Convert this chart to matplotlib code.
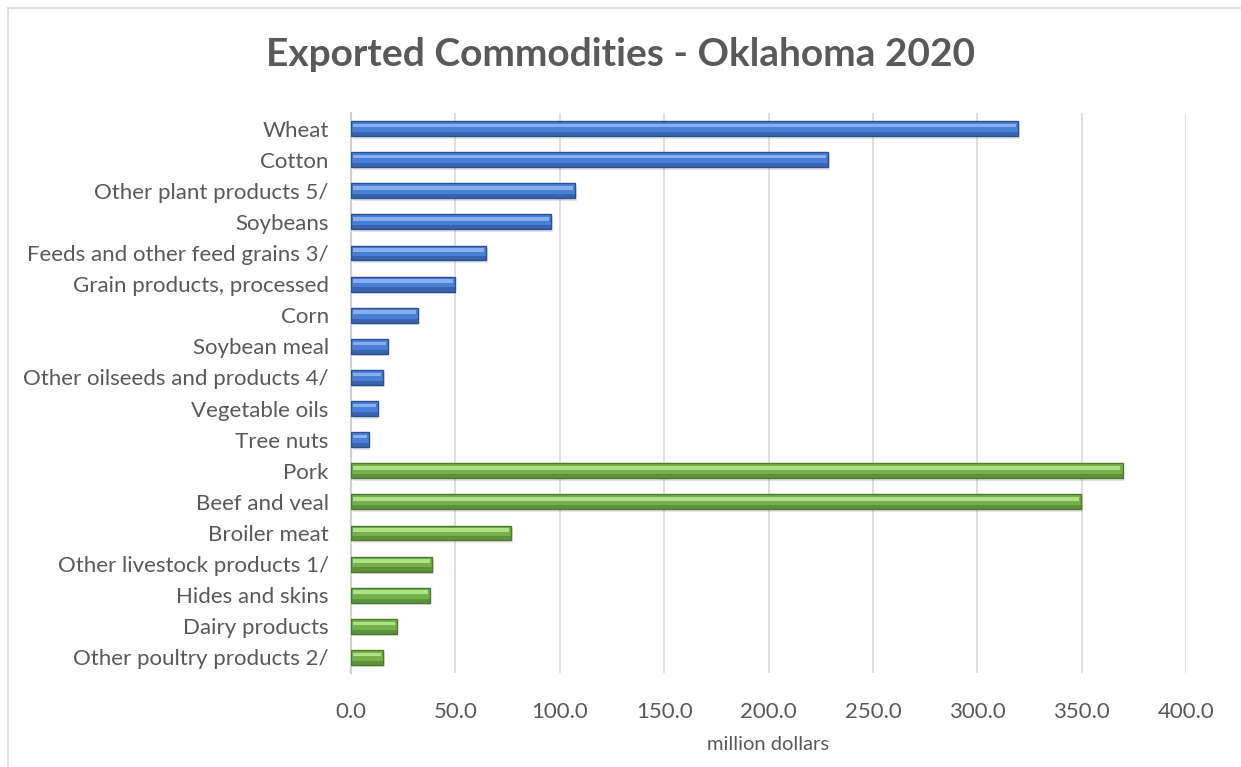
import numpy as np
import matplotlib
matplotlib.use("Agg")
import matplotlib.pyplot as plt
from matplotlib.lines import Line2D

plant_names = ["Wheat", "Cotton", "Other plant products 5/", "Soybeans",
               "Feeds and other feed grains 3/", "Grain products, processed",
               "Corn", "Soybean meal", "Other oilseeds and products 4/",
               "Vegetable oils", "Tree nuts"]
plant_values = [319.7, 228.7, 107.5, 95.8, 64.7, 49.7, 32.0, 17.6, 15.5, 12.8, 8.5]

animal_names = ["Pork", "Beef and veal", "Broiler meat", "Other livestock products 1/",
                "Hides and skins", "Dairy products", "Other poultry products 2/"]
animal_values = [369.6, 349.8, 76.7, 39.0, 37.7, 21.9, 15.5]

x_ticks = [0, 50, 100, 150, 200, 250, 300, 350, 400]

plt.rcParams['font.family'] = ['Lato', 'DejaVu Sans']
grey = "#595959"

W, H = 1241, 767
fig = plt.figure(figsize=(W / 100, H / 100), dpi=100)
ax = fig.add_axes([351 / W, 1 - 673 / H, (1186 - 351) / W, (673 - 113) / H])

names = plant_names + animal_names
values = plant_values + animal_values
n = len(names)
ypos = np.arange(n)

styles = [("#4a7fd6", "#8fb6f5", "#2b4f8f")] * len(plant_values) + \
         [("#76b04c", "#b5e88e", "#4c7a2c")] * len(animal_values)
mid = [s[0] for s in styles]
light = [s[1] for s in styles]
dark = [s[2] for s in styles]

bh = 0.48
# soft shadow
ax.barh(ypos + 0.08, values, height=bh, left=0.8, color="#000000", alpha=0.10,
        zorder=2, linewidth=0)
# main bar
ax.barh(ypos, values, height=bh, color=mid, edgecolor=dark, linewidth=1.0, zorder=3)
# highlight strip on the upper part
ax.barh(ypos - bh * 0.2, np.array(values) - 2.0, height=bh * 0.24, left=1.0,
        color=light, linewidth=0, zorder=4, alpha=0.9)
# dark lower strip
ax.barh(ypos + bh * 0.36, values, height=bh * 0.28, color=dark, linewidth=0,
        zorder=4, alpha=0.55)

ax.set_ylim(n - 0.5, -0.5)
ax.set_xlim(0, 400)
ax.set_yticks(ypos)
ax.set_yticklabels(names, fontsize=16, color=grey)
ax.set_xticks(x_ticks)
ax.set_xticklabels([f"{v:.1f}" for v in x_ticks], fontsize=16, color=grey)
ax.tick_params(axis="y", length=0, pad=16)
ax.tick_params(axis="x", length=0, pad=21)

ax.grid(axis="x", color="#d9d9d9", linewidth=1.2, zorder=0)
ax.set_axisbelow(True)
for s in ["top", "right", "bottom"]:
    ax.spines[s].set_visible(False)
ax.spines["left"].set_color("#d0d0d0")
ax.spines["left"].set_linewidth(1.5)

ax.set_xlabel("million dollars", fontsize=14.5, color=grey, labelpad=10)

fig.text(0.5, 1 - 54 / H, "Exported Commodities - Oklahoma 2020", ha="center",
         va="center", fontsize=28, fontweight="bold", color=grey)

# chart frame (cropped on right and bottom)
fig.add_artist(Line2D([8 / W, 1], [1 - 8 / H, 1 - 8 / H], color="#d9d9d9", lw=1.2))
fig.add_artist(Line2D([8 / W, 8 / W], [0, 1 - 8 / H], color="#d9d9d9", lw=1.2))

fig.savefig("out.png", dpi=100, facecolor="white")
